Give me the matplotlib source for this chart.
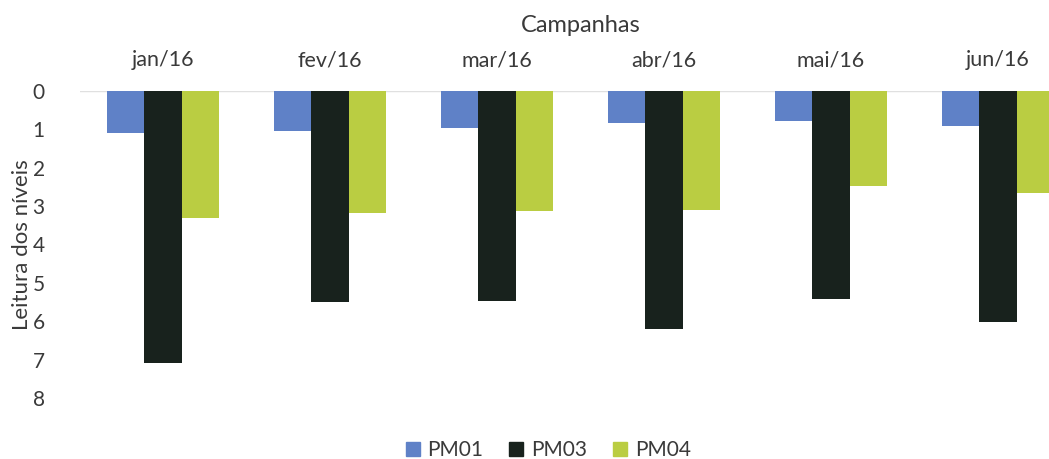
import numpy as np
import matplotlib.pyplot as plt

campanhas = ["jan/16", "fev/16", "mar/16", "abr/16", "mai/16", "jun/16"]
pm01 = [1.1, 1.05, 0.96, 0.83, 0.78, 0.91]
pm03 = [7.1, 5.5, 5.47, 6.2, 5.42, 6.03]
pm04 = [3.3, 3.18, 3.12, 3.1, 2.47, 2.66]
series = ["PM01", "PM03", "PM04"]
colors = ["#5f81c7", "#18221d", "#bacd42"]
txt = "#3a3a3a"

plt.rcParams['font.family'] = ['Lato', 'DejaVu Sans']

fig = plt.figure(figsize=(10.49, 4.59), dpi=100)
# plot area runs a little past the right edge of the figure
ax = fig.add_axes([79.5 / 1049, 1 - 398 / 459, 1002 / 1049, 307 / 459])

x = np.arange(len(campanhas))
w = 0.225
for i, (vals, name) in enumerate(zip([pm01, pm03, pm04], series)):
    ax.bar(x + (i - 1) * w, vals, width=w, color=colors[i], label=name, zorder=2)

ax.set_xlim(-0.5, len(campanhas) - 0.5)
ax.set_ylim(8, 0)
ax.set_yticks(range(0, 9))
ax.xaxis.tick_top()
ax.xaxis.set_label_position("top")
ax.set_xticks(x)
ax.set_xticklabels(campanhas)
ax.tick_params(axis="both", length=0, labelsize=15.5, colors=txt)
ax.tick_params(axis="x", pad=15)
ax.tick_params(axis="y", pad=25, labelsize=15)
ax.set_xlabel("Campanhas", fontsize=17, color=txt, labelpad=13)
ax.set_ylabel("Leitura dos níveis", fontsize=16, color=txt)
ax.yaxis.set_label_coords(-0.047, 0.5)
ax.axhline(0, color="#e0e0e0", lw=1, zorder=1)
for s in ax.spines.values():
    s.set_visible(False)

handles = [plt.Line2D([], [], marker="s", ls="", markersize=10, color=c) for c in colors]
fig.legend(handles, series, loc="center", bbox_to_anchor=(0.522, 0.02),
           ncol=3, frameon=False, fontsize=15, handlelength=0.8,
           handletextpad=0.3, columnspacing=1.2, labelcolor=txt)

fig.savefig("out.png", dpi=100)
